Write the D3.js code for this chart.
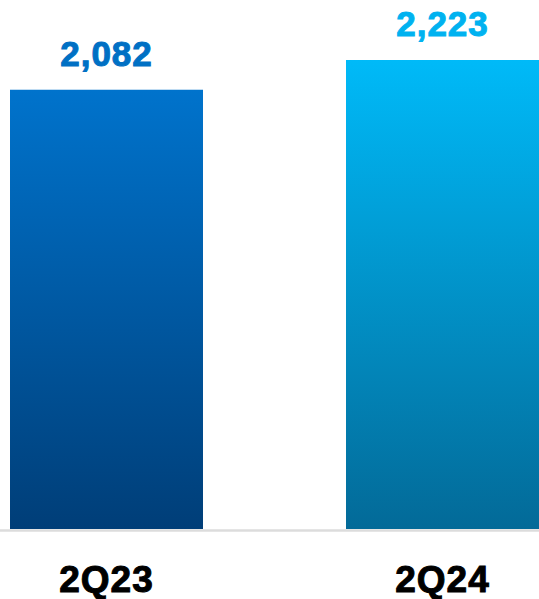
<!DOCTYPE html>
<html>
<head>
<meta charset="utf-8">
<script src="https://cdn.jsdelivr.net/npm/d3@7"></script>
<style>
  html, body { margin: 0; padding: 0; background: #fff; }
  svg { display: block; }
</style>
</head>
<body>
<svg id="chart" width="539" height="599"></svg>
<script>
// Quarterly totals
const categories = ["2Q23", "2Q24"];
const values = [2082, 2223];
const valueLabels = ["2,082", "2,223"];
const labelColors = ["#0070c4", "#00b2f0"];
const gradTop = ["#0073cc", "#00baf8"];
const gradBottom = ["#003e78", "#036a98"];

const W = 539, H = 599;
const svg = d3.select("#chart");

const x = d3.scaleBand()
  .domain(categories)
  .range([10, 539])
  .paddingInner(0.4256)
  .paddingOuter(0);

// zero sits on the baseline, bars grow upward
const y = d3.scaleLinear()
  .domain([0, 2223])
  .range([529, 60]);

const defs = svg.append("defs");
categories.forEach((c, i) => {
  const g = defs.append("linearGradient")
    .attr("id", "grad" + i)
    .attr("x1", 0).attr("y1", 0).attr("x2", 0).attr("y2", 1);
  g.append("stop").attr("offset", "0%").attr("stop-color", gradTop[i]);
  g.append("stop").attr("offset", "100%").attr("stop-color", gradBottom[i]);
});

svg.selectAll("rect.bar")
  .data(values)
  .join("rect")
  .attr("class", "bar")
  .attr("x", (d, i) => x(categories[i]))
  .attr("width", x.bandwidth())
  .attr("y", d => y(d))
  .attr("height", d => y(0) - y(d))
  .attr("fill", (d, i) => `url(#grad${i})`);

// baseline
svg.append("line")
  .attr("x1", 0).attr("x2", W)
  .attr("y1", y(0) + 1.5).attr("y2", y(0) + 1.5)
  .attr("stroke", "#dcdcdc")
  .attr("stroke-width", 2.5);

// value labels
svg.selectAll("text.val")
  .data(values)
  .join("text")
  .attr("class", "val")
  .attr("x", (d, i) => x(categories[i]) + x.bandwidth() / 2)
  .attr("y", d => y(d) - 24)
  .attr("text-anchor", "middle")
  .attr("fill", (d, i) => labelColors[i])
  .attr("stroke", (d, i) => labelColors[i])
  .attr("stroke-width", 1)
  .style("font-family", "'Liberation Sans', Arial, sans-serif")
  .style("font-weight", "bold")
  .style("font-size", "35px")
  .style("letter-spacing", "1px")
  .text((d, i) => valueLabels[i]);

// category labels
svg.selectAll("text.cat")
  .data(categories)
  .join("text")
  .attr("class", "cat")
  .attr("x", d => x(d) + x.bandwidth() / 2)
  .attr("y", 592)
  .attr("text-anchor", "middle")
  .attr("fill", "#000")
  .attr("stroke", "#000")
  .attr("stroke-width", 1)
  .style("font-family", "'Liberation Sans', Arial, sans-serif")
  .style("font-weight", "bold")
  .style("font-size", "37px")
  .style("letter-spacing", "1px")
  .text(d => d);
</script>
</body>
</html>
